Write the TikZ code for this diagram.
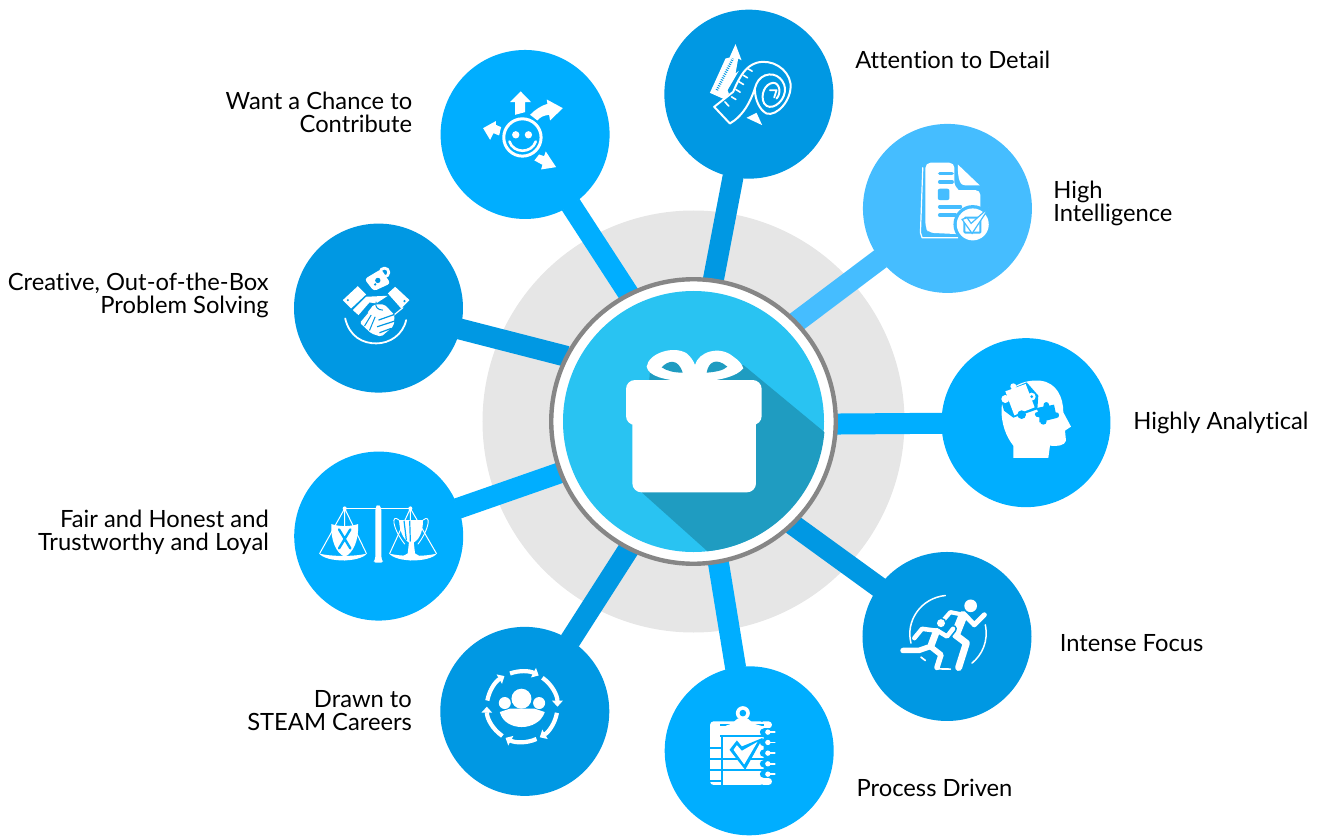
\documentclass[tikz,border=0pt]{standalone}
\usepackage{fontspec}
\setmainfont{Lato}[Ligatures=CommonOff]
\usetikzlibrary{positioning, backgrounds, arrows.meta}
\definecolor{spotbright}{HTML}{00AEFF}
\definecolor{spotdark}{HTML}{0098E3}
\definecolor{spotlight}{HTML}{45BDFF}
\definecolor{hubring}{HTML}{868686}
\definecolor{hubdisk}{HTML}{E6E6E6}
\definecolor{hubface}{HTML}{29C3F2}
\definecolor{hubshade}{HTML}{1F9CC1}
\tikzset{
    spot/.style={circle, inner sep=0pt, minimum size=169pt},
    spoke/.style={line width=21pt, shorten <=-2pt, shorten >=-1pt},
    lab/.style={inner sep=0pt, font=\fontsize{23.75}{23}\selectfont},
    labright/.style={lab, align=left},
    lableft/.style={lab, align=right},
    icon/.style 2 args={x=0.3333pt, y=-0.3333pt, shift={(-#1,-#2)}},
    ink/.style={fill=white, draw=none},
    pen/.style={draw=white, fill=none, line width=#1, line cap=round, line join=round},
    pen/.default=1.5pt,
    cyclearrow/.style={pen=4.2pt, line cap=butt, -{Triangle[width=10.5pt,length=6pt]}},
    % the gift in the middle, with its long shadow
    pics/gift/.style={code={
        \begin{scope}[icon={460.5}{454.5}]
            \begin{scope}
                \clip (463,454) circle (391.5);
                \fill[hubshade] (330,300) -- (610,285) -- (900,525) -- (900,900) -- (565,900) -- (305,667) -- cycle;
            \end{scope}
            \fill[ink, rounded corners=9pt] (258,330) rectangle (665,465);
            \fill[ink, rounded corners=9pt] (277,400) rectangle (648,667);
            \fill[ink] (440,335) .. controls (370,330) and (325,318) .. (320,290)
                .. controls (325,250) and (400,225) .. (440,250)
                .. controls (452,260) and (460,272) .. (465,285)
                .. controls (475,245) and (540,225) .. (580,260)
                .. controls (595,270) and (605,280) .. (610,295)
                .. controls (590,320) and (540,330) .. (490,335) -- cycle;
            \fill[hubshade] (365,292) .. controls (385,270) and (415,265) .. (428,308)
                .. controls (400,308) and (380,302) .. cycle;
            \fill[hubshade] (500,308) .. controls (505,275) and (530,262) .. (562,290)
                .. controls (550,302) and (525,306) .. cycle;
        \end{scope}
    }},
    pics/smiley/.style={code={
        \begin{scope}[icon={150}{147}]
            \draw[pen=3pt] (142,156) circle (56);
            \fill[ink] (122,148) circle (11) (160,148) circle (11);
            \draw[pen=2.6pt] (103,168) .. controls (115,205) and (170,205) .. (182,168);
            \fill[ink] (137,18) -- (168,50) -- (150,50) -- (150,80) -- (120,88) -- (120,50) -- (105,50) -- cycle;
            \fill[ink] (165,88) .. controls (180,72) and (200,60) .. (217,55) -- (215,42) -- (263,68) -- (225,105) -- (222,88)
                .. controls (205,90) and (195,95) .. (187,105) -- cycle;
            \fill[ink] (24,128) -- (62,107) -- (62,118) -- (78,125) -- (72,150) -- (55,143) -- (45,163) -- cycle;
            \fill[ink] (178,225) -- (192,207) -- (207,212) -- (212,198) -- (243,245) -- (198,252) -- (202,238) -- cycle;
        \end{scope}
    }},
    pics/tape/.style={code={
        \begin{scope}[icon={132}{162}]
            \fill[ink] (92,12) -- (110,60) -- (100,55) -- (92,100) -- (102,92) -- (68,150) -- (72,160) -- (60,178) -- (15,158) -- (28,130) -- (62,55) -- (74,52) -- cycle;
            \draw[spotdark, line width=2.6pt, dash pattern=on 0.9pt off 1.3pt] (36,150) -- (84,55);
            \draw[pen=2pt] (155,68) .. controls (125,78) and (108,100) .. (85,155) -- (28,200)
                -- (75,250) -- (90,240) .. controls (115,220) and (135,190) .. (150,145)
                .. controls (155,125) and (165,112) .. (180,106);
            \draw[pen=2pt] (155,68) .. controls (200,55) and (250,85) .. (257,130) .. controls (262,180) and (215,230) .. (185,220)
                .. controls (165,210) and (150,180) .. (150,145);
            \draw[pen=2pt] (180,106) .. controls (215,92) and (245,125) .. (240,155) .. controls (235,190) and (195,215) .. (178,190)
                .. controls (165,165) and (180,130) .. (205,128) .. controls (225,128) and (230,160) .. (215,175);
            \draw[pen=1.8pt] (195,150) -- (215,150) -- (208,172);
            \draw[pen=1.6pt] (128,85) -- (142,93) (115,105) -- (128,113) (103,125) -- (116,133) (93,148) -- (106,156) (80,170) -- (93,178) (60,185) -- (72,198);
            \fill[ink] (125,233) -- (155,218) -- (172,255) -- cycle;
        \end{scope}
    }},
    pics/report/.style={code={
        \begin{scope}[icon={201}{177}]
            \draw[pen=1.2pt] (127,55) -- (120,250) -- (125,265) -- (232,265);
            \fill[ink, rounded corners=5pt] (135,40) -- (222,40) -- (222,85) .. controls (222,110) and (235,122) .. (250,122) -- (300,122) -- (300,210) -- (250,255) -- (145,250) -- (135,235) -- cycle;
            \fill[ink] (232,45) -- (298,108) -- (255,108) .. controls (240,108) and (232,95) .. cycle;
            \draw[spotlight, line width=3.6pt, line cap=round] (178,72) -- (215,72) (178,97) -- (215,97) (178,172) -- (240,172) (178,197) -- (225,197);
            \fill[spotlight, rounded corners=2pt] (172,118) rectangle (207,152);
            \fill[spotlight] (277,225) circle (58);
            \fill[ink] (277,225) circle (48);
            \draw[spotlight, line width=2pt, rounded corners=1pt] (252,205) rectangle (300,250);
            \fill[ink, draw=spotlight, line width=1.2pt] (245,210) -- (260,205) -- (272,222) -- (328,172) -- (275,252) -- cycle;
        \end{scope}
    }},
    pics/puzzlehead/.style={code={
        \begin{scope}[icon={438}{816}]
            \fill[ink] (400,922) -- (400,885) .. controls (380,860) and (362,820) .. (365,770)
                .. controls (370,720) and (420,685) .. (480,690) .. controls (530,695) and (550,740) .. (550,785)
                -- (573,828) -- (555,840) -- (558,870) .. controls (555,885) and (530,888) .. (510,885) -- (505,922) -- cycle;
            \fill[spotbright] (358,730) -- (440,695) -- (475,735) -- (472,776) -- (400,801) -- (372,780) -- cycle;
            \fill[ink] (376,722) -- (437,700) -- (464,770) -- (403,794) -- cycle;
            \fill[ink] (376,745) circle (12) (400,707) circle (9) (455,738) circle (12);
            \fill[spotbright] (455,738) circle (4.5) (425,792) circle (13);
            \fill[spotbright] (470,772) -- (490,768) .. controls (488,750) and (508,750) .. (508,765) -- (522,762) -- (527,785)
                .. controls (540,782) and (540,803) .. (530,802) -- (478,815) -- (478,800) .. controls (462,802) and (460,782) .. (474,784) -- cycle;
            \fill[spotbright] (490,812) circle (10);
        \end{scope}
    }},
    pics/runners/.style={code={
        \begin{scope}[icon={150}{135}]
            \draw[pen=1.5pt] (145,12) .. controls (70,20) and (25,90) .. (42,155);
            \draw[pen=1.5pt] (265,100) .. controls (275,150) and (255,190) .. (225,215);
            \draw[pen=1.7pt] (125,232) -- (160,233) (72,197) -- (85,207);
            \fill[ink] (221,43) circle (19);
            \draw[pen=4.2pt] (200,70) -- (160,62) -- (140,85);
            \draw[pen=5pt] (205,72) -- (232,100) -- (262,70);
            \draw[pen=9pt] (198,72) -- (177,125);
            \draw[pen=7pt] (175,130) -- (208,155) -- (185,228);
            \fill[spotdark] (132,95) circle (17);
            \fill[ink] (132,95) circle (12);
            \draw[spotdark, line width=8pt, line cap=round, line join=round] (120,118) -- (150,135) -- (168,112);
            \draw[spotdark, line width=9pt, line cap=round] (118,120) -- (100,165) -- (132,190);
            \draw[pen=4.5pt] (122,118) -- (150,135) -- (168,112);
            \draw[pen=4.5pt] (122,118) -- (75,112) -- (52,140);
            \draw[pen=7pt] (118,120) -- (103,160);
            \draw[pen=5.5pt] (100,165) -- (65,177) -- (18,177);
            \draw[pen=5.5pt] (100,165) -- (132,190) -- (120,228);
        \end{scope}
    }},
    pics/clipboard/.style={code={
        \begin{scope}[icon={837}{453}]
            \fill[ink, rounded corners=3pt] (720,365) rectangle (880,555);
            \fill[ink, rounded corners=3pt] (870,365) rectangle (905,385) (870,535) rectangle (905,555);
            \fill[spotbright] (880,385) rectangle (910,535);
            \draw[spotbright, line width=2pt] (750,376) -- (880,376);
            \fill[ink, rounded corners=3pt] (760,380) -- (790,370) -- (800,355) -- (835,355) -- (845,370) -- (880,380) -- cycle;
            \fill[ink] (818,340) circle (21);
            \fill[spotbright] (818,340) circle (10);
            \draw[spotbright, line width=2.2pt] (750,408) -- (880,408) (755,408) -- (755,555) (720,445) -- (755,445) (720,478) -- (880,478) (720,510) -- (880,510) (720,543) -- (755,543);
            \fill[spotbright] (778,450) -- (800,422) -- (815,440) -- (878,414) -- (825,510) -- cycle;
            \fill[ink] (790,450) -- (800,436) -- (815,453) -- (862,426) -- (822,494) -- cycle;
            \fill[spotbright] (880,397) circle (11) (880,428) circle (11) (880,460) circle (11) (880,492) circle (11) (880,523) circle (11);
            \fill[ink] (893,397) circle (8) (893,428) circle (8) (893,460) circle (8) (893,492) circle (8) (893,523) circle (8);
            \draw[pen=1.5pt] (893,397) -- (914,397) (893,428) -- (914,428) (893,460) -- (914,460) (893,492) -- (914,492) (893,523) -- (914,523);
        \end{scope}
    }},
    pics/teamcycle/.style={code={
        \begin{scope}[icon={165}{333}]
            \fill[ink] (155,295) circle (30) (105,308) circle (18) (208,308) circle (18);
            \fill[ink] (90,335) .. controls (105,395) and (205,395) .. (225,335) -- (195,325) -- (120,325) -- cycle;
            \begin{scope}[shift={(157,319)}]
                \draw[cyclearrow] (-110:106) arc[start angle=-110, end angle=-62, radius=106];
                \draw[cyclearrow] (-55:106) arc[start angle=-55, end angle=0, radius=106];
                \draw[cyclearrow] (10:106) arc[start angle=10, end angle=60, radius=106];
                \draw[cyclearrow] (66:106) arc[start angle=66, end angle=118, radius=106];
                \draw[cyclearrow] (124:106) arc[start angle=124, end angle=180, radius=106];
                \draw[cyclearrow] (190:106) arc[start angle=190, end angle=240, radius=106];
            \end{scope}
        \end{scope}
    }},
    pics/balance/.style={code={
        \begin{scope}[icon={207}{798}]
            \draw[pen=1.4pt] (105,715) -- (302,715);
            \fill[ink] (105,715) circle (6) (302,715) circle (6);
            \fill[ink, rounded corners=3pt] (197,712) -- (205,702) -- (215,712) -- (215,868) -- (222,878) -- (190,878) -- (197,868) -- cycle;
            % left pan with the shield
            \draw[pen=1pt] (105,715) -- (30,850) (105,715) -- (170,850) (105,715) -- (105,870);
            \fill[ink] (65,762) .. controls (90,770) and (120,770) .. (145,762) .. controls (148,810) and (130,850) .. (105,860) .. controls (80,850) and (62,810) .. cycle;
            \draw[spotbright, line width=2.4pt, line cap=round] (88,778) -- (122,835) (122,778) -- (88,835);
            \fill[ink] (28,850) .. controls (60,860) and (140,860) .. (172,850) .. controls (150,878) and (50,878) .. cycle;
            % right pan with the cup
            \draw[pen=1pt] (302,715) -- (240,850) (302,715) -- (380,850) (302,715) -- (302,870);
            \fill[ink] (268,750) -- (340,750) .. controls (340,790) and (325,815) .. (305,820) .. controls (285,815) and (270,790) .. cycle;
            \draw[spotbright, line width=1.2pt] (283,752) -- (290,810) (300,752) -- (302,815);
            \draw[pen=0.9pt] (268,750) .. controls (245,730) and (245,770) .. (285,822) (340,750) .. controls (365,730) and (360,775) .. (325,822);
            \fill[ink] (298,815) -- (312,815) -- (316,850) -- (330,858) -- (280,858) -- (294,850) -- cycle;
            \fill[ink] (238,850) .. controls (270,860) and (350,860) .. (382,850) .. controls (360,878) and (260,878) .. cycle;
        \end{scope}
    }},
    pics/handshake/.style={code={
        \begin{scope}[icon={132}{129}]
            \draw[pen=1.8pt] (32,160) .. controls (45,215) and (85,235) .. (125,235) .. controls (165,235) and (205,210) .. (215,165);
            \draw[pen=2.8pt] (150,22) circle (13);
            \fill[ink, rounded corners=3pt] (90,42) -- (140,12) -- (168,55) -- (118,78) -- cycle;
            \fill[spotdark] (130,46) circle (8) (122,58) circle (4);
            \fill[ink] (25,105) -- (70,63) -- (95,88) -- (50,130) -- cycle;
            \fill[ink] (160,85) -- (182,65) -- (225,105) -- (200,130) -- cycle;
            \fill[spotdark] (40,105) circle (3.5) (210,108) circle (3.5);
            \fill[ink, rounded corners=2pt] (118,118) -- (150,118) -- (180,150) -- (178,182) -- (140,215) -- (110,205) -- (75,172) -- (105,135) -- cycle;
            \draw[pen=1.2pt] (205,128) -- (178,150);
            \fill[ink] (55,135) -- (95,95) -- (160,92) -- (125,115) -- (105,112) -- (72,150) -- cycle;
            \draw[spotdark, line width=1pt] (100,142) -- (78,168) (110,150) -- (90,183) (122,155) -- (105,196);
            \draw[spotdark, line width=1pt] (125,110) .. controls (120,125) and (130,135) .. (145,135);
            \draw[spotdark, line width=1.2pt] (132,165) -- (180,148) (128,185) -- (180,168) (135,203) -- (170,190);
        \end{scope}
    }},
}

\begin{document}
\begin{tikzpicture}[x=1pt, y=1pt]
    \useasboundingbox (-693.5,-413.5) rectangle (627.5,421.5);

    \node[circle, draw=hubring, fill=white, line width=4.4pt, minimum size=284.5pt, inner sep=0pt] (hub) at (0,0) {};
    \node[circle, fill=hubface, minimum size=261pt, inner sep=0pt] (face) at (hub) {};
    \pic at (hub) {gift};

    \node[spot, fill=spotbright] (analytical) at (-0.2:332.5) {};
    \node[spot, fill=spotlight] (intelligence) at (40:331.5) {};
    \node[spot, fill=spotdark] (attention) at (80.4:332) {};
    \node[spot, fill=spotbright] (contribute) at (120.4:332.8) {};
    \node[spot, fill=spotdark] (creative) at (160.2:334.8) {};
    \node[spot, fill=spotbright] (fair) at (200:335) {};
    \node[spot, fill=spotdark] (steam) at (239.8:335.4) {};
    \node[spot, fill=spotbright] (process) at (279.6:334) {};
    \node[spot, fill=spotdark] (focus) at (319.7:332.4) {};

    \begin{pgfonlayer}{background}
        \node[circle, fill=hubdisk, minimum size=422pt, inner sep=0pt] (disk) at (hub) {};
        \draw[spoke, spotbright] (hub.359) -- (analytical);
        \draw[spoke, spotlight] (hub.44) -- (intelligence);
        \draw[spoke, spotdark] (hub.82) -- (attention);
        \draw[spoke, spotbright] (hub.117) -- (contribute);
        \draw[spoke, spotdark] (hub.153) -- (creative);
        \draw[spoke, spotbright] (hub.201.5) -- (fair);
        \draw[spoke, spotdark] (hub.243) -- (steam);
        \draw[spoke, spotbright] (hub.280) -- (process);
        \draw[spoke, spotdark] (hub.314) -- (focus);
    \end{pgfonlayer}

    \pic at (analytical) {puzzlehead};
    \pic at (intelligence) {report};
    \pic at (attention) {tape};
    \pic at (contribute) {smiley};
    \pic at (creative) {handshake};
    \pic at (fair) {balance};
    \pic at (steam) {teamcycle};
    \pic at (process) {clipboard};
    \pic at (focus) {runners};

    \node[labright, right=22.5pt of analytical] (labanalytical) {Highly Analytical};
    \node[labright, right=21pt of intelligence, yshift=5pt] (labintelligence) {High\\Intelligence};
    \node[labright, right=21.5pt of attention, yshift=34pt] (labattention) {Attention to Detail};
    \node[lableft, left=28pt of contribute, yshift=22pt] (labcontribute) {Want a Chance to\\Contribute};
    \node[lableft, left=25pt of creative, yshift=13pt] (labcreative) {Creative, Out-of-the-Box\\Problem Solving};
    \node[lableft, left=25pt of fair, yshift=4pt] (labfair) {Fair and Honest and\\Trustworthy and Loyal};
    \node[lableft, left=28pt of steam, yshift=1pt] (labsteam) {Drawn to\\STEAM Careers};
    \node[labright, right=22.5pt of process, yshift=-37pt] (labprocess) {Process Driven};
    \node[labright, right=28pt of focus, yshift=-7pt] (labfocus) {Intense Focus};
\end{tikzpicture}
\end{document}
